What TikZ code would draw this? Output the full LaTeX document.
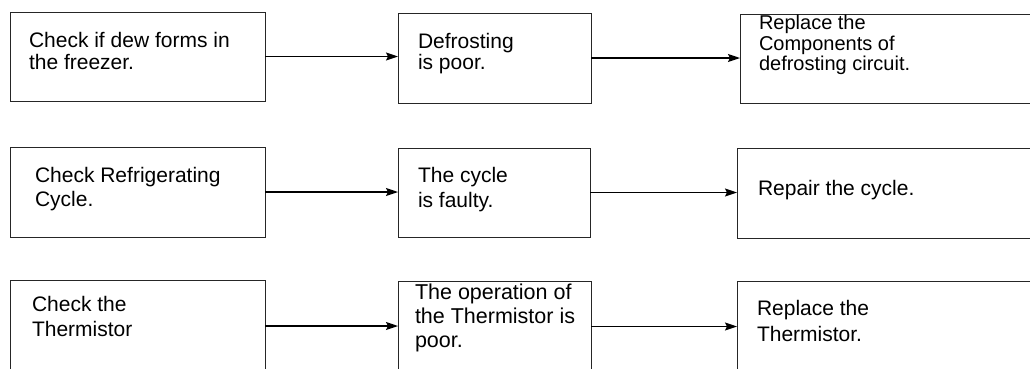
\documentclass[tikz,border=0pt]{standalone}
\usepackage{fontspec}
\setmainfont{Liberation Sans}
\usetikzlibrary{arrows.meta}
\tikzset{
  box/.style={draw=black!85, line width=0.9pt, rectangle, inner sep=0pt, outer sep=0pt, anchor=north west},
  txt/.style={anchor=north west, inner sep=0pt, outer sep=0pt, align=left, text=black},
  arr/.style={draw=black, line width=1.4pt, -{Stealth[length=12pt,width=8pt,inset=2pt]}},
}
\newcommand{\fsz}[2]{\fontsize{#1}{#2}\selectfont}
\begin{document}
\begin{tikzpicture}[x=1pt,y=-1pt]
\useasboundingbox (0,0) rectangle (1030,368);
\clip (0,0) rectangle (1030,368);
% boxes
\node[box, minimum width=255pt, minimum height=89pt] (b11) at (10,12) {};
\node[box, minimum width=193pt, minimum height=90pt] (b12) at (398,13) {};
\node[box, minimum width=310pt, minimum height=89pt] (b13) at (740,14) {};
\node[box, minimum width=255pt, minimum height=90pt] (b21) at (10,147) {};
\node[box, minimum width=192pt, minimum height=89pt] (b22) at (398,148) {};
\node[box, minimum width=310pt, minimum height=90pt] (b23) at (737,148) {};
\node[box, minimum width=255pt, minimum height=92pt] (b31) at (10,280) {};
\node[box, minimum width=193pt, minimum height=91pt] (b32) at (398,281) {};
\node[box, minimum width=310pt, minimum height=91pt] (b33) at (737,281) {};
% texts
\node[txt, font=\fsz{21}{22.5}] (t11) at (29,32) {Check if dew forms in\\the freezer.};
\node[txt, font=\fsz{21}{21.5}] (t12) at (418,33) {Defrosting\\is poor.};
\node[txt, font=\fsz{20}{20.5}] (t13) at (759,15.5) {Replace the\\Components of\\defrosting circuit.};
\node[txt, font=\fsz{21}{24}] (t21) at (35,167) {Check Refrigerating\\Cycle.};
\node[txt, font=\fsz{21}{25}] (t22) at (418,167) {The cycle\\is faulty.};
\node[txt, font=\fsz{21}{25}] (t23) at (758,180) {Repair the cycle.};
\node[txt, font=\fsz{21}{25}] (t31) at (32,296) {Check the\\Thermistor};
\node[txt, font=\fsz{21.5}{24}] (t32) at (415,284) {The operation of\\the Thermistor is\\poor.};
\node[txt, font=\fsz{21}{26}] (t33) at (757,300) {Replace the\\Thermistor.};
% arrows
\draw[arr] (b11.east) -- (b11.east -| b12.west);
\draw[arr] (b12.east) -- (b12.east -| b13.west);
\draw[arr] (b21.east) -- (b21.east -| b22.west);
\draw[arr] (b22.east) -- (b22.east -| b23.west);
\draw[arr] (b31.east) -- (b31.east -| b32.west);
\draw[arr] (b32.east) -- (b32.east -| b33.west);
\end{tikzpicture}
\end{document}
